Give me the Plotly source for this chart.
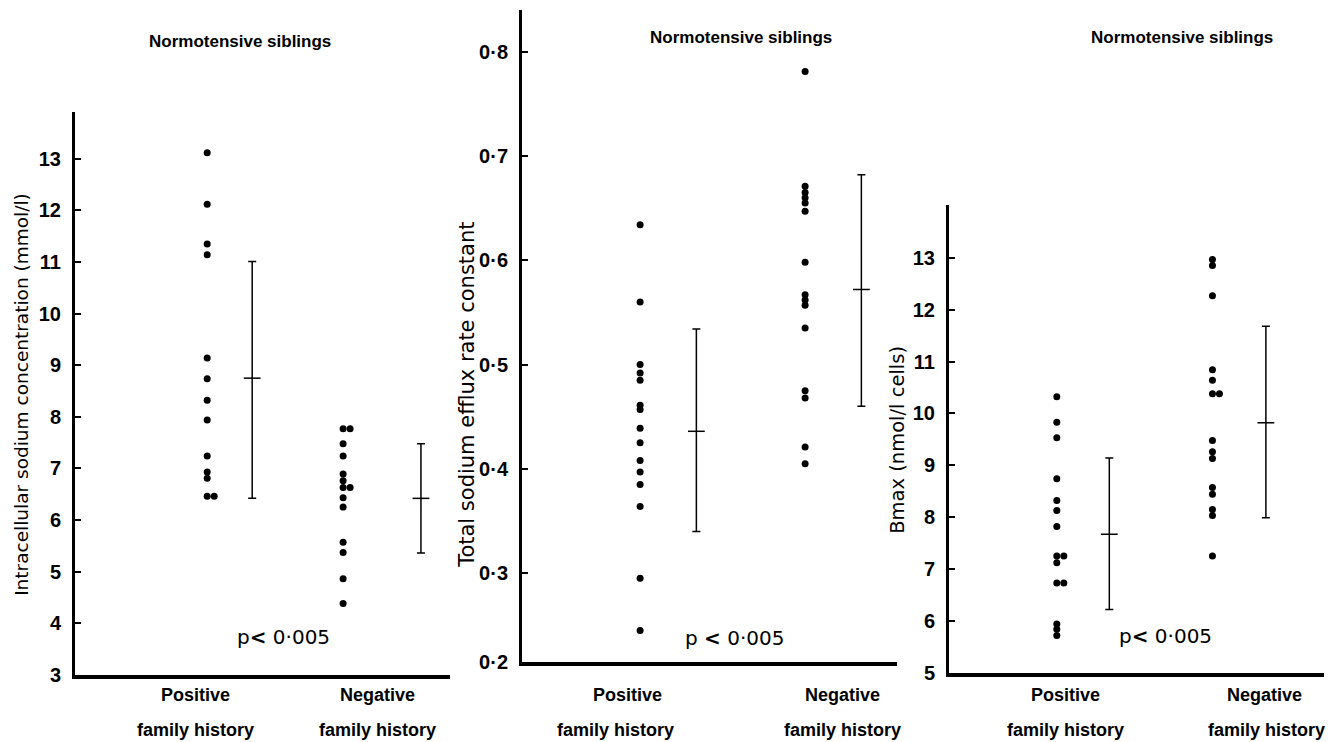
import plotly.graph_objects as go

W, H = 1333, 742
SY = 0.9855  # observed vertical scale of the photographed page; pixel targets are divided by it

# ---------------- data ----------------
groups = ["Positive", "Negative"]
group_line2 = ["family history", "family history"]

na_pos = [13.12, 12.12, 11.35, 11.14, 9.14, 8.74, 8.32, 7.94, 7.24, 6.93, 6.81, 6.46, 6.46]
na_neg = [7.77, 7.77, 7.48, 7.24, 6.89, 6.76, 6.63, 6.63, 6.43, 6.25, 5.57, 5.37, 4.86, 4.38]
na_mean = [8.75, 6.42]
na_low = [6.42, 5.36]
na_high = [11.01, 7.48]

ef_pos = [0.634, 0.560, 0.500, 0.492, 0.485, 0.461, 0.457, 0.439, 0.425, 0.408,
          0.397, 0.385, 0.364, 0.295, 0.245]
ef_neg = [0.781, 0.671, 0.665, 0.660, 0.655, 0.647, 0.598, 0.567, 0.562, 0.557,
          0.535, 0.475, 0.468, 0.421, 0.405]
ef_mean = [0.436, 0.572]
ef_low = [0.340, 0.460]
ef_high = [0.534, 0.682]

bm_pos = [10.32, 9.83, 9.53, 8.74, 8.32, 8.13, 7.82, 7.25, 7.25, 7.12, 6.73, 6.73,
          5.94, 5.84, 5.72]
bm_neg = [12.97, 12.85, 12.27, 10.84, 10.64, 10.38, 10.38, 9.48, 9.26, 9.13, 8.57,
          8.44, 8.15, 8.03, 7.25]
bm_mean = [7.67, 9.82]
bm_low = [6.22, 7.99]
bm_high = [9.14, 11.68]

na_ticks = list(range(3, 14))
ef_ticks = [0.2, 0.3, 0.4, 0.5, 0.6, 0.7, 0.8]
bm_ticks = list(range(5, 14))

title_text = "Normotensive siblings"
p_text = ["p<b><</b> 0·005", "p <b><</b> 0·005", "p<b><</b> 0·005"]
ytitles = ["Intracellular sodium concentration (mmol/l)",
           "Total sodium efflux rate constant",
           "Bmax (nmol/l cells)"]

# ---------------- layout constants (pixels) ----------------
FONT_B = "Liberation Sans, Arial, sans-serif"
FONT_R = "DejaVu Sans, Liberation Sans, sans-serif"
panels = [
    dict(x0=75, x1=450, ytop=112, ybot=675, yr=[3, 13.91], ticks=na_ticks,
         pos=na_pos, neg=na_neg, mean=na_mean, low=na_low, high=na_high,
         dotx=[1.41, 2.86], barx=[1.89, 3.69], labx=[1.29, 3.23], lab2x=[1.29, 3.23],
         title=(240, 42), ptxt=(283, 637), ytit=(22, 395), ytsize=18.5),
    dict(x0=522, x1=897, ytop=10, ybot=662, yr=[0.215, 0.840], ticks=ef_ticks,
         pos=ef_pos, neg=ef_neg, mean=ef_mean, low=ef_low, high=ef_high,
         dotx=[1.26, 3.02], barx=[1.86, 3.62], labx=[1.12, 3.42], lab2x=[1.0, 3.42],
         title=(741, 38), ptxt=(734, 638), ytit=(467, 395), ytsize=21),
    dict(x0=949, x1=1324, ytop=205, ybot=673, yr=[5, 14.02], ticks=bm_ticks,
         pos=bm_pos, neg=bm_neg, mean=bm_mean, low=bm_low, high=bm_high,
         dotx=[1.15, 2.81], barx=[1.71, 3.38], labx=[1.24, 3.37], lab2x=[1.24, 3.39],
         title=(1182, 38), ptxt=(1165, 636), ytit=(898, 440), ytsize=19.5),
]
XR = [0, 4]
PX_PER_X = 375 / 4.0
DUP_DX = 7 / PX_PER_X


def py(y):
    """pixel y (from top, as seen in the reference) -> paper fraction"""
    return max(0.0, 1 - y / (H * SY))


def swarm_x(values, base):
    xs, seen = [], {}
    for v in values:
        k = seen.get(v, 0)
        xs.append(base + k * DUP_DX)
        seen[v] = k + 1
    return xs


def fmt(v):
    return ("%g" % v).replace(".", "·")


fig = go.Figure()
annotations = []
layout_axes = {}

for i, p in enumerate(panels):
    n = "" if i == 0 else str(i + 1)
    xa, ya = "x" + n, "y" + n
    lo, hi = p["yr"]
    tickvals = [max(t, lo) for t in p["ticks"]]
    layout_axes["xaxis" + n] = dict(
        domain=[p["x0"] / W, p["x1"] / W], range=XR, showgrid=False, zeroline=False,
        showticklabels=False, ticks="", showline=True, linewidth=3.5, linecolor="black",
        anchor=ya, fixedrange=True)
    layout_axes["yaxis" + n] = dict(
        domain=[py(p["ybot"]), py(p["ytop"])], range=[lo, hi], showgrid=False,
        zeroline=False, showline=True, linewidth=3, linecolor="black", anchor=xa,
        tickmode="array", tickvals=tickvals, ticktext=["<b>%s</b>" % fmt(t) for t in p["ticks"]],
        ticks="inside", ticklen=6, tickwidth=2, tickcolor="black",
        tickfont=dict(family=FONT_B, size=20, color="black"), ticklabelstandoff=7,
        fixedrange=True)

    for g, vals in enumerate([p["pos"], p["neg"]]):
        fig.add_trace(go.Scatter(
            x=swarm_x(vals, p["dotx"][g]), y=vals, mode="markers", xaxis=xa, yaxis=ya,
            marker=dict(color="black", size=7), showlegend=False, hoverinfo="y"))
        m = p["mean"][g]
        fig.add_trace(go.Scatter(
            x=[p["barx"][g]], y=[m], mode="markers", xaxis=xa, yaxis=ya,
            marker=dict(symbol="line-ew", size=12, line=dict(color="black", width=1.5)),
            error_y=dict(type="data", symmetric=False, array=[p["high"][g] - m],
                         arrayminus=[m - p["low"][g]], width=4, thickness=1.5,
                         color="black"),
            showlegend=False, hoverinfo="y"))
        annotations.append(dict(
            x=p["labx"][g], y=py(695), xref=xa, yref="paper", text="<b>%s</b>" % groups[g],
            showarrow=False, font=dict(family=FONT_B, size=18, color="black"),
            xanchor="center", yanchor="middle"))
        annotations.append(dict(
            x=p["lab2x"][g], y=py(730), xref=xa, yref="paper",
            text="<b>%s</b>" % group_line2[g], showarrow=False,
            font=dict(family=FONT_B, size=18, color="black"),
            xanchor="center", yanchor="middle"))

    annotations.append(dict(
        x=p["title"][0] / W, y=py(p["title"][1]), xref="paper", yref="paper",
        text="<b>%s</b>" % title_text, showarrow=False,
        font=dict(family=FONT_B, size=17, color="black"), xanchor="center", yanchor="middle"))
    annotations.append(dict(
        x=p["ptxt"][0] / W, y=py(p["ptxt"][1]), xref="paper", yref="paper",
        text=p_text[i], showarrow=False,
        font=dict(family=FONT_R, size=20, color="black"), xanchor="center", yanchor="middle"))
    annotations.append(dict(
        x=p["ytit"][0] / W, y=py(p["ytit"][1]), xref="paper", yref="paper",
        text=ytitles[i], showarrow=False, textangle=-90,
        font=dict(family=FONT_R, size=p["ytsize"], color="black"),
        xanchor="center", yanchor="middle"))

fig.update_layout(
    width=W, height=H, margin=dict(l=0, r=0, t=0, b=0),
    paper_bgcolor="white", plot_bgcolor="white",
    annotations=annotations, showlegend=False, **layout_axes)

fig.write_html(
    "out.html", config={"displayModeBar": False},
    post_script=("document.body.style.margin='0px';document.body.style.overflow='hidden';"))
